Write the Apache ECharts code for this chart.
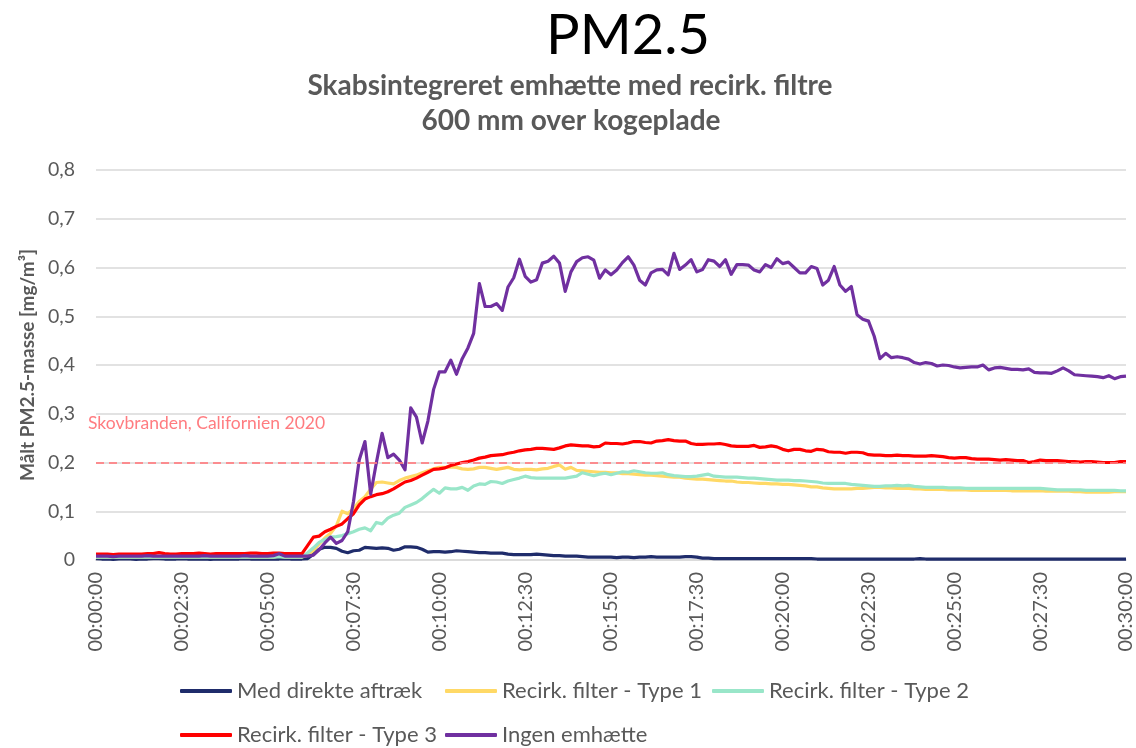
<!DOCTYPE html>
<html style="height: 100%">
<head>
    <meta charset="utf-8">
</head>
<body style="height: 100%; margin: 0; background: #fff">
<div id="container" style="width: 1136px; height: 748px"></div>

<script src="https://cdn.jsdelivr.net/npm/echarts@6/dist/echarts.min.js"></script>
<script type="text/javascript">
    // readings every 10 s from 00:00:00 to 00:30:00 (181 points), mg/m3
    var direkte = [
        0.003,0.002,0.002,0.001,0.002,0.003,0.002,0.001,0.002,0.002,
        0.003,0.003,0.002,0.002,0.002,0.003,0.002,0.002,0.002,0.002,
        0.001,0.002,0.002,0.002,0.002,0.002,0.003,0.002,0.002,0.002,
        0.002,0.002,0.002,0.003,0.002,0.002,0.002,0.003,0.012,0.022,
        0.026,0.026,0.024,0.018,0.015,0.019,0.020,0.026,0.025,0.024,
        0.025,0.024,0.020,0.022,0.027,0.027,0.026,0.022,0.016,0.017,
        0.017,0.016,0.017,0.019,0.018,0.017,0.016,0.015,0.015,0.014,
        0.014,0.014,0.012,0.011,0.011,0.011,0.011,0.012,0.011,0.010,
        0.009,0.009,0.008,0.008,0.008,0.007,0.006,0.006,0.006,0.006,
        0.006,0.005,0.006,0.006,0.005,0.006,0.006,0.007,0.006,0.006,
        0.006,0.006,0.006,0.007,0.007,0.006,0.004,0.004,0.003,0.003,
        0.003,0.003,0.003,0.003,0.003,0.003,0.003,0.003,0.003,0.003,
        0.003,0.003,0.003,0.003,0.003,0.003,0.002,0.002,0.002,0.002,
        0.002,0.002,0.002,0.002,0.002,0.002,0.002,0.002,0.002,0.002,
        0.002,0.002,0.002,0.002,0.003,0.002,0.002,0.002,0.002,0.002,
        0.002,0.002,0.002,0.002,0.002,0.002,0.002,0.002,0.002,0.002,
        0.002,0.002,0.002,0.002,0.002,0.002,0.002,0.002,0.002,0.002,
        0.002,0.002,0.002,0.002,0.002,0.002,0.002,0.002,0.002,0.002,0.002
    ];
    var type1 = [
        0.006,0.006,0.006,0.006,0.006,0.006,0.006,0.006,0.006,0.006,
        0.006,0.006,0.006,0.006,0.006,0.006,0.006,0.006,0.006,0.006,
        0.006,0.006,0.006,0.006,0.006,0.006,0.006,0.006,0.006,0.006,
        0.006,0.006,0.008,0.006,0.006,0.006,0.006,0.010,0.020,0.033,
        0.045,0.055,0.070,0.100,0.095,0.105,0.120,0.130,0.145,0.159,
        0.160,0.158,0.156,0.163,0.168,0.171,0.174,0.179,0.183,0.187,
        0.190,0.190,0.191,0.190,0.187,0.186,0.187,0.190,0.190,0.188,
        0.186,0.188,0.190,0.186,0.185,0.186,0.186,0.185,0.187,0.188,
        0.192,0.195,0.186,0.190,0.184,0.183,0.182,0.181,0.180,0.180,
        0.179,0.179,0.177,0.177,0.176,0.175,0.174,0.174,0.173,0.172,
        0.171,0.170,0.170,0.168,0.167,0.166,0.166,0.165,0.164,0.163,
        0.162,0.162,0.160,0.159,0.159,0.158,0.157,0.157,0.156,0.156,
        0.155,0.155,0.154,0.153,0.152,0.150,0.150,0.148,0.147,0.146,
        0.146,0.146,0.146,0.147,0.147,0.148,0.149,0.149,0.148,0.148,
        0.147,0.147,0.147,0.146,0.146,0.145,0.145,0.145,0.145,0.144,
        0.144,0.144,0.144,0.143,0.143,0.143,0.143,0.143,0.143,0.143,
        0.142,0.142,0.142,0.142,0.142,0.142,0.141,0.141,0.141,0.141,
        0.141,0.140,0.140,0.139,0.139,0.139,0.139,0.139,0.140,0.140,0.140
    ];
    var type2 = [
        0.006,0.006,0.006,0.006,0.006,0.006,0.006,0.006,0.006,0.006,
        0.006,0.006,0.006,0.006,0.006,0.006,0.006,0.006,0.006,0.006,
        0.006,0.006,0.006,0.006,0.006,0.006,0.006,0.006,0.006,0.006,
        0.006,0.006,0.007,0.006,0.006,0.006,0.006,0.015,0.025,0.036,
        0.042,0.047,0.048,0.050,0.054,0.058,0.063,0.066,0.060,0.077,
        0.074,0.086,0.092,0.096,0.108,0.113,0.118,0.126,0.136,0.145,
        0.137,0.148,0.146,0.146,0.149,0.143,0.152,0.156,0.155,0.161,
        0.160,0.157,0.162,0.165,0.168,0.172,0.169,0.168,0.168,0.168,
        0.168,0.168,0.168,0.170,0.172,0.179,0.176,0.173,0.176,0.178,
        0.175,0.178,0.181,0.180,0.183,0.181,0.179,0.178,0.178,0.179,
        0.175,0.173,0.172,0.171,0.171,0.172,0.174,0.176,0.172,0.171,
        0.170,0.170,0.170,0.169,0.168,0.168,0.167,0.166,0.165,0.164,
        0.164,0.164,0.163,0.163,0.162,0.161,0.160,0.158,0.157,0.157,
        0.157,0.157,0.155,0.154,0.153,0.152,0.151,0.151,0.152,0.152,
        0.153,0.152,0.153,0.151,0.150,0.149,0.149,0.149,0.149,0.148,
        0.148,0.148,0.147,0.147,0.147,0.147,0.147,0.147,0.147,0.147,
        0.147,0.147,0.147,0.147,0.147,0.147,0.146,0.145,0.144,0.144,
        0.144,0.144,0.144,0.143,0.143,0.143,0.143,0.143,0.143,0.142,0.142
    ];
    var type3 = [
        0.012,0.012,0.012,0.011,0.012,0.012,0.012,0.012,0.012,0.013,
        0.013,0.015,0.013,0.012,0.012,0.013,0.013,0.013,0.014,0.013,
        0.012,0.013,0.013,0.013,0.013,0.013,0.013,0.014,0.014,0.013,
        0.013,0.014,0.014,0.013,0.013,0.013,0.013,0.030,0.047,0.049,
        0.058,0.063,0.069,0.074,0.085,0.095,0.113,0.125,0.130,0.134,
        0.136,0.140,0.146,0.153,0.160,0.163,0.168,0.174,0.180,0.186,
        0.187,0.189,0.194,0.197,0.200,0.202,0.205,0.209,0.211,0.214,
        0.215,0.216,0.219,0.221,0.224,0.226,0.227,0.229,0.229,0.228,
        0.227,0.230,0.234,0.236,0.235,0.234,0.234,0.232,0.233,0.240,
        0.239,0.239,0.238,0.240,0.243,0.243,0.241,0.240,0.244,0.245,
        0.247,0.245,0.244,0.244,0.239,0.237,0.237,0.238,0.238,0.239,
        0.237,0.234,0.233,0.233,0.233,0.235,0.231,0.232,0.234,0.232,
        0.227,0.224,0.227,0.227,0.224,0.223,0.227,0.226,0.222,0.221,
        0.221,0.219,0.221,0.221,0.220,0.216,0.215,0.215,0.214,0.214,
        0.215,0.214,0.214,0.213,0.213,0.213,0.214,0.213,0.212,0.210,
        0.209,0.210,0.210,0.208,0.207,0.207,0.207,0.206,0.205,0.206,
        0.205,0.204,0.204,0.200,0.202,0.205,0.204,0.204,0.204,0.203,
        0.202,0.202,0.201,0.202,0.202,0.201,0.200,0.200,0.200,0.202,0.202
    ];
    var ingen = [
        0.008,0.008,0.008,0.007,0.008,0.008,0.008,0.008,0.008,0.009,
        0.008,0.008,0.008,0.008,0.008,0.008,0.008,0.008,0.008,0.009,
        0.008,0.008,0.008,0.008,0.008,0.008,0.009,0.008,0.008,0.008,
        0.008,0.009,0.013,0.008,0.008,0.008,0.008,0.008,0.010,0.021,
        0.035,0.047,0.034,0.040,0.058,0.120,0.205,0.243,0.135,0.200,
        0.260,0.210,0.217,0.205,0.185,0.312,0.293,0.240,0.285,0.350,
        0.386,0.386,0.410,0.381,0.413,0.435,0.465,0.567,0.520,0.520,
        0.526,0.512,0.560,0.579,0.617,0.582,0.570,0.575,0.609,0.613,
        0.623,0.609,0.551,0.591,0.612,0.620,0.622,0.615,0.578,0.595,
        0.585,0.595,0.610,0.622,0.605,0.574,0.564,0.589,0.595,0.596,
        0.585,0.629,0.596,0.605,0.616,0.591,0.596,0.616,0.613,0.602,
        0.616,0.586,0.606,0.606,0.605,0.595,0.591,0.606,0.600,0.618,
        0.608,0.611,0.600,0.589,0.589,0.602,0.598,0.564,0.574,0.602,
        0.564,0.551,0.561,0.503,0.494,0.490,0.459,0.413,0.424,0.415,
        0.417,0.415,0.412,0.405,0.402,0.405,0.403,0.398,0.400,0.399,
        0.396,0.394,0.395,0.396,0.396,0.400,0.390,0.394,0.395,0.393,
        0.391,0.391,0.390,0.392,0.385,0.384,0.384,0.383,0.388,0.394,
        0.388,0.380,0.379,0.378,0.377,0.376,0.374,0.378,0.372,0.376,0.377
    ];
    var names = ['Med direkte aftræk', 'Recirk. filter - Type 1', 'Recirk. filter - Type 2',
                 'Recirk. filter - Type 3', 'Ingen emhætte'];
    var colors = ['#1f2c6b', '#ffd966', '#99e6c9', '#ff0000', '#7030a0'];
    var limitValue = 0.2;
    var limitLabel = 'Skovbranden, Californien 2020';

    // time labels hh:mm:ss, one per reading
    var times = [];
    for (var s = 0; s <= 1800; s += 10) {
        var mm = Math.floor(s / 60), ss = s % 60;
        times.push('00:' + (mm < 10 ? '0' : '') + mm + ':' + (ss < 10 ? '0' : '') + ss);
    }

    var font = 'Lato, "Liberation Sans", sans-serif';
    var grey = '#595959';
    var chart = echarts.init(document.getElementById('container'), null, {renderer: 'canvas'});

    var allData = [direkte, type1, type2, type3, ingen];
    var series = allData.map(function (d, i) {
        var s = {
            name: names[i],
            type: 'line',
            data: d,
            showSymbol: false,
            symbol: 'none',
            lineStyle: {width: 3.2, color: colors[i], join: 'round'},
            itemStyle: {color: colors[i]},
            animation: false
        };
        if (i === 0) {
            s.markLine = {
                silent: true,
                symbol: 'none',
                label: {show: false},
                lineStyle: {color: '#ff7c80', type: [8, 5], width: 2, opacity: 0.85},
                data: [{yAxis: limitValue}]
            };
        }
        return s;
    });

    // one legend per item so the two rows line up like the original
    var legendPos = [[180, 680], [445, 680], [712, 680], [180, 724], [445, 724]];
    var legends = names.map(function (n, i) {
        return {
            data: [n],
            left: legendPos[i][0],
            top: legendPos[i][1],
            icon: 'roundRect',
            itemWidth: 52,
            itemHeight: 4,
            selectedMode: false,
            padding: 0,
            textStyle: {color: grey, fontSize: 22, fontFamily: font}
        };
    });

    var option = {
        backgroundColor: '#fff',
        animation: false,
        legend: legends,
        grid: {left: 96, right: 8, top: 170, bottom: 188, containLabel: false},
        xAxis: {
            type: 'category',
            data: times,
            boundaryGap: false,
            axisLine: {show: true, lineStyle: {color: '#d9d9d9', width: 1.5}},
            axisTick: {show: false},
            axisLabel: {
                interval: 14,
                rotate: 90,
                margin: 12,
                color: grey,
                fontSize: 20,
                fontFamily: font
            },
            splitLine: {show: false}
        },
        yAxis: {
            type: 'value',
            min: 0,
            max: 0.8,
            interval: 0.1,
            name: 'Målt PM2.5-masse [mg/m³]',
            nameLocation: 'middle',
            nameGap: 55,
            nameTextStyle: {color: grey, fontSize: 19, fontWeight: 'bold', fontFamily: font},
            axisLine: {show: false},
            axisTick: {show: false},
            axisLabel: {
                margin: 21,
                color: grey,
                fontSize: 19.5,
                fontFamily: font,
                formatter: function (v) {
                    return v === 0 ? '0' : v.toFixed(1).replace('.', ',');
                }
            },
            splitLine: {lineStyle: {color: '#d9d9d9', width: 1.5}}
        },
        graphic: [
            {
                type: 'text', x: 628, y: 36,
                style: {text: 'PM2.5', fill: '#000', font: '56px ' + font, textAlign: 'center', textVerticalAlign: 'middle'}
            },
            {
                type: 'text', x: 570, y: 86,
                style: {text: 'Skabsintegreret emhætte med recirk. filtre', fill: grey,
                    font: 'bold 28px ' + font, textAlign: 'center', textVerticalAlign: 'middle'}
            },
            {
                type: 'text', x: 571, y: 121,
                style: {text: '600 mm over kogeplade', fill: grey,
                    font: 'bold 28px ' + font, textAlign: 'center', textVerticalAlign: 'middle'}
            },
            {
                type: 'text', x: 88, y: 423,
                style: {text: limitLabel, fill: '#ff7c80', font: '17.5px ' + font,
                    textAlign: 'left', textVerticalAlign: 'middle'}
            }
        ],
        series: series
    };

    chart.setOption(option);
</script>
</body>
</html>
